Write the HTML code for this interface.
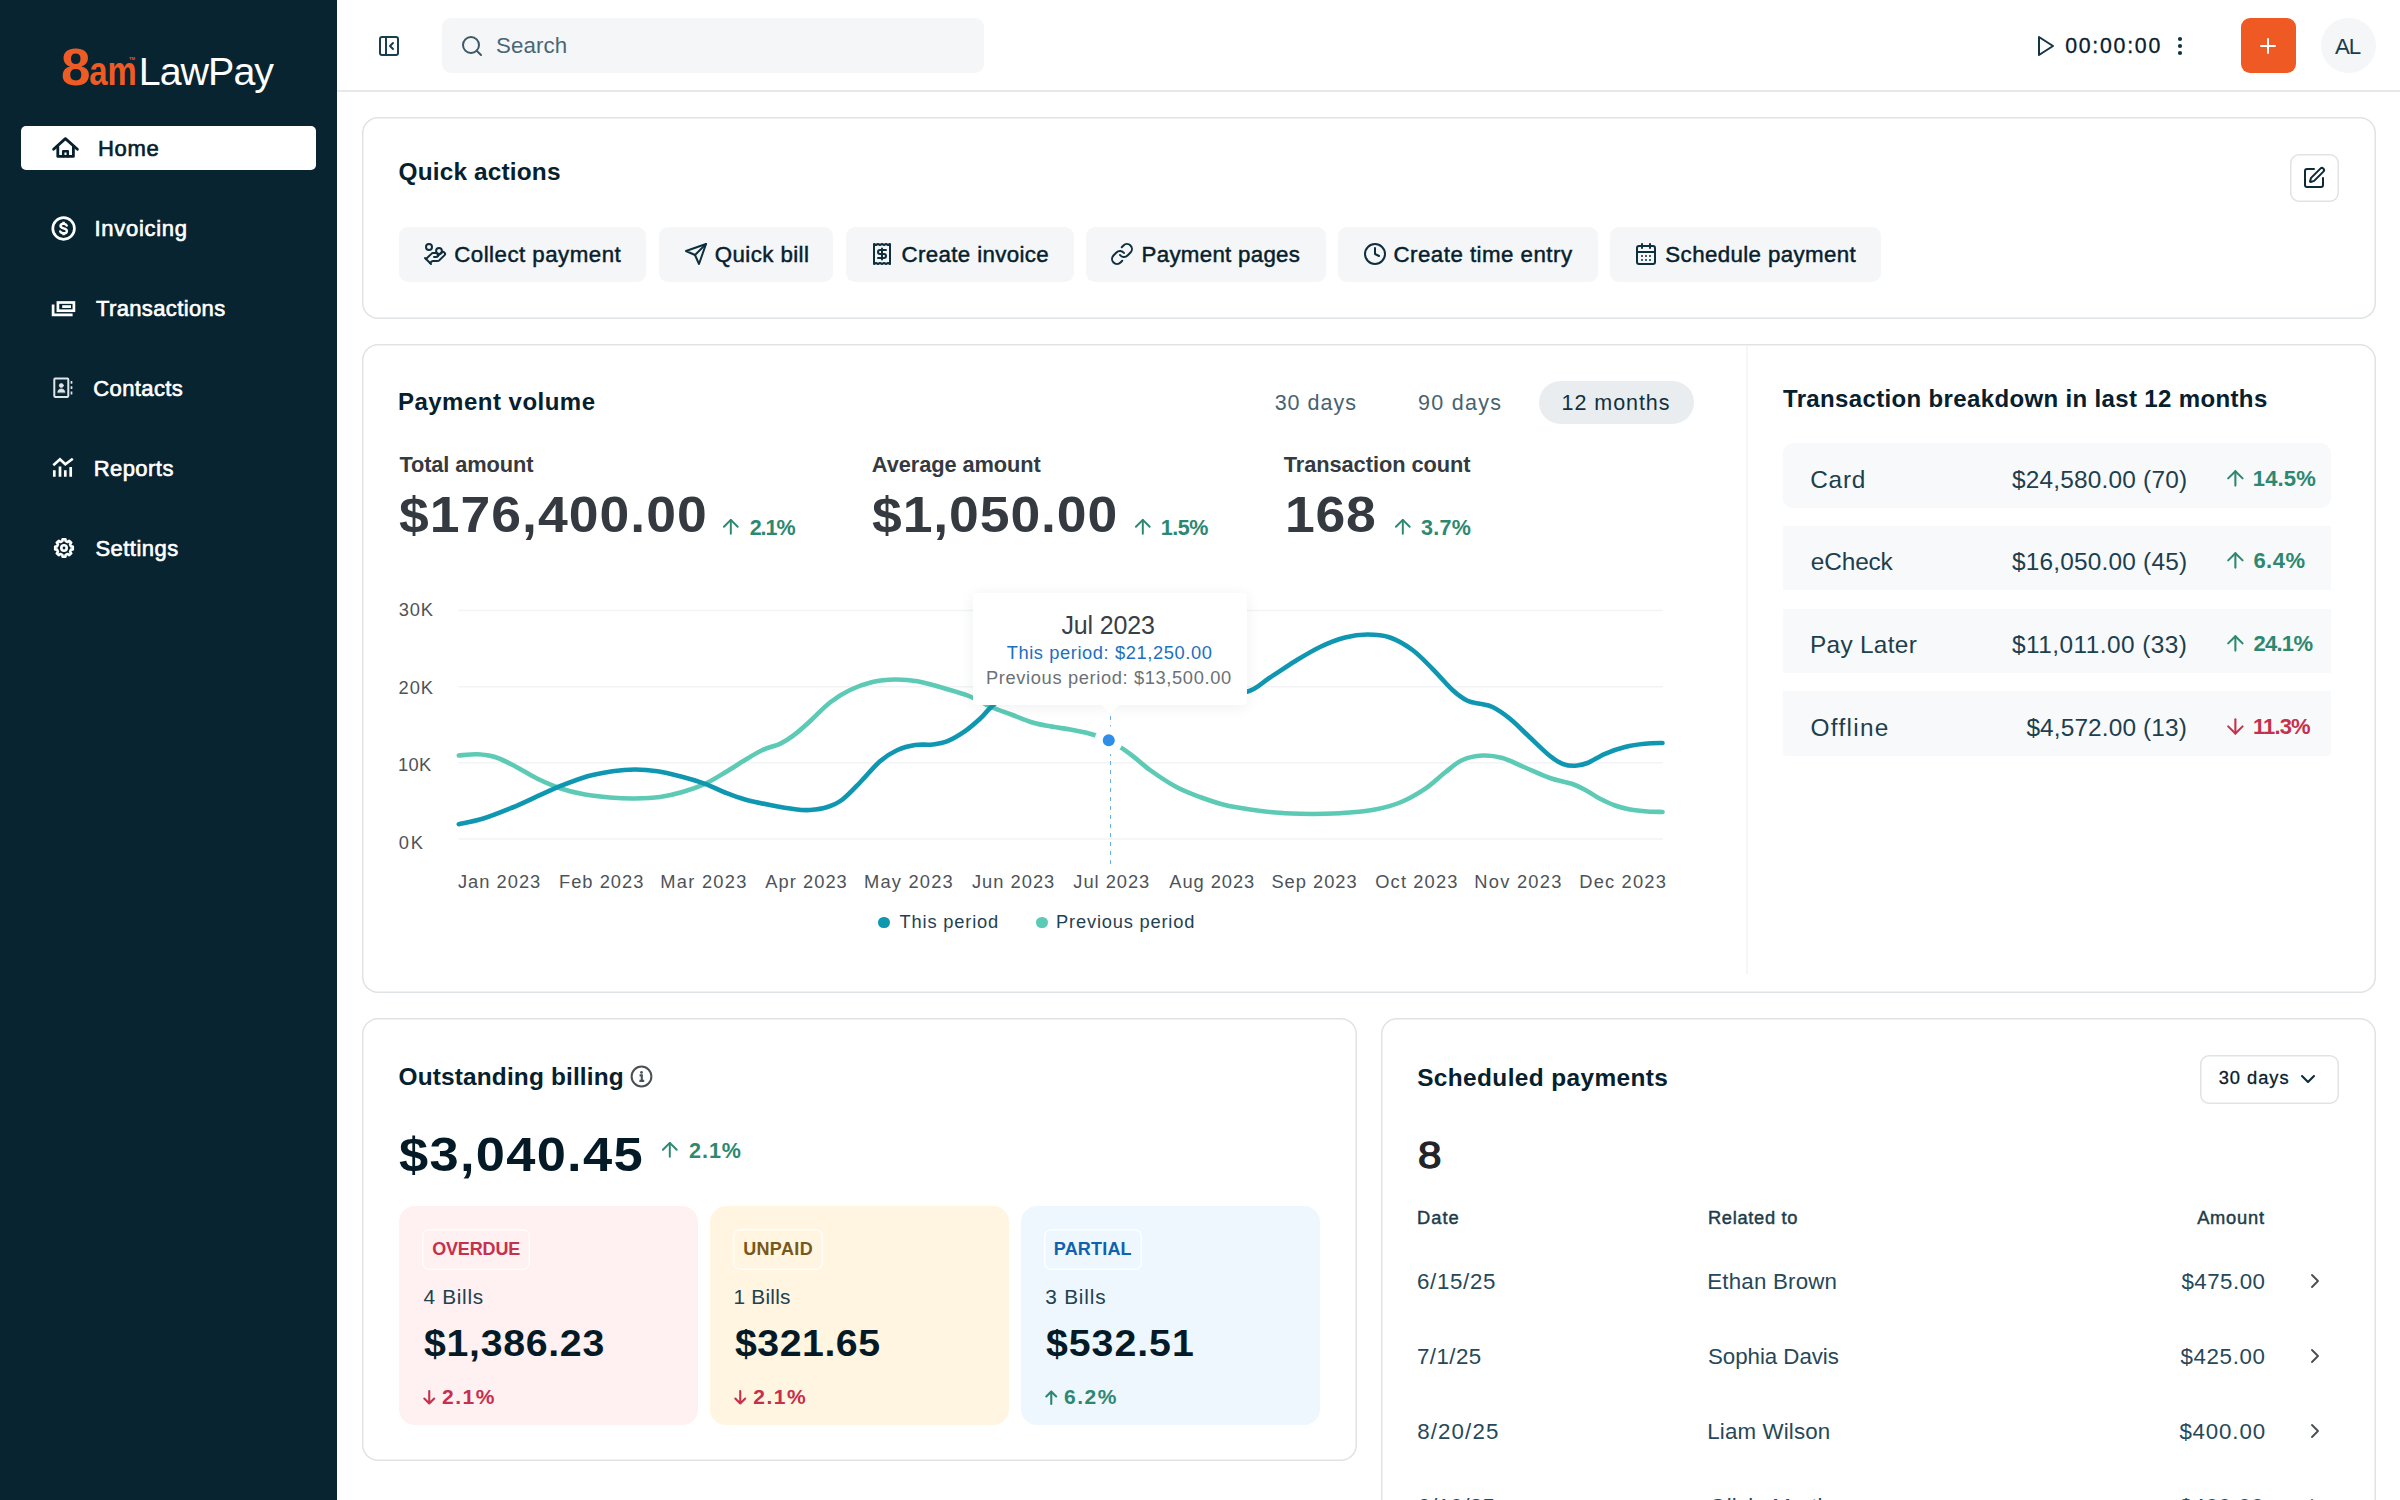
<!DOCTYPE html>
<html lang="en">
<head>
<meta charset="utf-8">
<title>LawPay - Home</title>
<style>
*{box-sizing:border-box;margin:0;padding:0}
html,body{width:2400px;height:1500px;overflow:hidden;background:#fff}
body{position:relative;font-family:"Liberation Sans",sans-serif;color:#06202d;-webkit-font-smoothing:antialiased}
.t{position:absolute;white-space:nowrap;line-height:1;display:block}
.b{position:absolute}
.i{position:absolute;overflow:visible;fill:none;stroke:currentColor;stroke-linecap:round;stroke-linejoin:round}
.card{box-shadow:inset 0 0 0 1.5px #dfe3e5;border-radius:16px;background:#fff}
.qa{background:#f4f6f8;border-radius:9px}
.bold{font-weight:700}
aside,header,main,section,nav{display:block}
</style>
</head>
<body>

<aside>
<div class="b" style="left:0px;top:0px;width:337px;height:1500px;background:#082430"></div>
<span class="t logo" style="left:61.30px;top:41px;font-size:52.4px;color:#ef5b25;font-weight:700;transform-origin:0 0;transform:scaleX(1.0123)">8<span style="display:inline-block;font-size:40.5px;line-height:1;margin-left:-1.250px;transform-origin:0 0;transform:scaleX(.8015)">am</span></span>
<span class="t" style="left:138.77px;top:52.00px;font-size:39.4px;color:#ffffff;letter-spacing:-0.981px">LawPay</span>
<span class="t" style="left:129.00px;top:57.00px;font-size:4.2px;color:#ef5b25;font-weight:700">TM</span>
<nav>
<div class="b" style="left:21px;top:126px;width:295px;height:43.5px;background:#fff;border-radius:5px"></div>
<svg class="i" style="left:52px;top:136px;color:#06202d;stroke-width:2.8" width="27" height="23" viewBox="0 0 27 23"><path d="M1.600 13.300L13.400 2.600L25.400 13.300"/><path d="M5.800 10.800V20.400H21.400V10.800"/><path d="M11.200 20.200V15.300H15.800V20.200" style="stroke-width:2.500"/></svg>
<span class="t" style="left:98.09px;top:138.00px;font-size:22px;color:#06202d;-webkit-text-stroke:0.65px currentColor;letter-spacing:0.628px">Home</span>
<svg class="i" style="left:51px;top:215.8px;color:#fff;stroke-width:2.7" width="25" height="25" viewBox="0 0 25 25"><circle cx="12.600" cy="12.500" r="10.800"/><path d="M15.700 9.600c-.5-1.100-1.600-1.800-3.100-1.800-1.800 0-3.100.9-3.100 2.300 0 3.100 6.400 1.500 6.400 4.800 0 1.500-1.400 2.400-3.300 2.400-1.600 0-2.900-.7-3.400-1.900" style="stroke-width:2.400"/><path d="M12.600 5.800V7.800M12.600 17.300V19.300" style="stroke-width:2.400;stroke-linecap:butt"/></svg>
<span class="t" style="left:94.49px;top:218.00px;font-size:22px;color:#fff;-webkit-text-stroke:0.65px currentColor;letter-spacing:0.716px">Invoicing</span>
<svg class="i" style="left:51px;top:299px;color:#fff;stroke-width:2.700;stroke-linecap:butt;stroke-linejoin:miter" width="26" height="19" viewBox="0 0 26 19"><rect x="6.900" y="3.500" width="16" height="8.200"/><rect x="11.200" y="6.200" width="8.800" height="2.800" style="fill:currentColor;stroke:none"/><path d="M2.100 5.400V15.900H21.600"/></svg>
<span class="t" style="left:95.94px;top:298.00px;font-size:22px;color:#fff;-webkit-text-stroke:0.65px currentColor;letter-spacing:0.378px">Transactions</span>
<svg class="i" style="left:52px;top:376px;color:#dfe6ea;stroke-width:2" width="23" height="23" viewBox="0 0 23 23"><rect x="2.300" y="2.600" width="14" height="18.300" rx="0.800"/><circle cx="9.300" cy="9.500" r="2.100" style="fill:currentColor;stroke-width:0.600"/><path d="M5.700 16.300c0-2.200 1.600-3.400 3.600-3.400s3.600 1.200 3.600 3.400z" style="fill:currentColor;stroke-width:0.600"/><path d="M19.500 5V7.800M19.500 10.300V13.100M19.500 15.600V18.400" style="stroke-width:1.700;stroke-linecap:butt"/></svg>
<span class="t" style="left:93.27px;top:378.00px;font-size:22px;color:#fff;-webkit-text-stroke:0.65px currentColor;letter-spacing:0.381px">Contacts</span>
<svg class="i" style="left:51px;top:456px;color:#fff" width="25" height="23" viewBox="0 0 25 23"><path d="M3.300 14.300V20.800M9 10.600V20.800M14.300 14.300V20.800M19.700 11V20.800" style="stroke-width:2.700;stroke-linecap:butt"/><path d="M2.300 9.300L9 3.200L14.300 8.300L21.800 2.800" style="stroke-width:2.600;stroke-linecap:butt;stroke-linejoin:miter"/></svg>
<span class="t" style="left:93.63px;top:458.00px;font-size:22px;color:#fff;-webkit-text-stroke:0.65px currentColor;letter-spacing:0.457px">Reports</span>
<svg class="i" style="left:52.8px;top:536.7px;color:#fff;stroke-width:2.600" width="22" height="22" viewBox="0 0 22 22"><path d="M9.61 2.21L12.39 2.21L12.66 4.10L14.71 4.95L16.23 3.80L18.20 5.77L17.05 7.29L17.90 9.34L19.79 9.61L19.79 12.39L17.90 12.66L17.05 14.71L18.20 16.23L16.23 18.20L14.71 17.05L12.66 17.90L12.39 19.79L9.61 19.79L9.34 17.90L7.29 17.05L5.77 18.20L3.80 16.23L4.95 14.71L4.10 12.66L2.21 12.39L2.21 9.61L4.10 9.34L4.95 7.29L3.80 5.77L5.77 3.80L7.29 4.95L9.34 4.10Z" style="stroke-linejoin:round"/><circle cx="11" cy="11" r="2.700"/></svg>
<span class="t" style="left:95.39px;top:538.00px;font-size:22px;color:#fff;-webkit-text-stroke:0.65px currentColor;letter-spacing:0.479px">Settings</span>
</nav>
</aside>
<header>
<div class="b" style="left:337px;top:90px;width:2063px;height:2px;background:#e5e9eb"></div>
<svg class="i" style="left:377px;top:34px;color:#173f50;stroke-width:2" width="24" height="24" viewBox="0 0 24 24"><rect width="18" height="18" x="3" y="3" rx="2"/><path d="M9 3v18"/><path d="m16 15-3-3 3-3"/></svg>
<div class="b" style="left:441.5px;top:18.3px;width:542px;height:55px;background:#f4f6f8;border-radius:9px"></div>
<svg class="i" style="left:459.7px;top:34px;color:#3c5966;stroke-width:2" width="24" height="24" viewBox="0 0 24 24"><circle cx="11" cy="11" r="8"/><path d="m21 21-4.300-4.300"/></svg>
<span class="t" style="left:496.05px;top:35.00px;font-size:22.3px;color:#4a6674;letter-spacing:0.104px">Search</span>
<svg class="i" style="left:2032.5px;top:33.8px;color:#123544;stroke-width:2" width="24" height="24" viewBox="0 0 24 24"><path d="M6 3 20 12 6 21Z"/></svg>
<span class="t" style="left:2065.16px;top:36.00px;font-size:21.3px;color:#06202d;-webkit-text-stroke:0.3px currentColor;letter-spacing:1.740px">00:00:00</span>
<svg class="i" style="left:2167.5px;top:34px;color:#123544;stroke-width:2.2" width="24" height="24" viewBox="0 0 24 24"><circle cx="12" cy="5" r="1"/><circle cx="12" cy="12" r="1"/><circle cx="12" cy="19" r="1"/></svg>
<div class="b" style="left:2240.5px;top:18.3px;width:55.3px;height:55px;background:#ef5a24;border-radius:9px"></div>
<svg class="i" style="left:2256.2px;top:34px;color:#fff;stroke-width:2" width="24" height="24" viewBox="0 0 24 24"><path d="M5 12h14"/><path d="M12 5v14"/></svg>
<div class="b" style="left:2320.5px;top:18.3px;width:55px;height:55px;background:#f4f6f8;border-radius:50%"></div>
<span class="t" style="left:2334.88px;top:36.00px;font-size:22.3px;color:#1a3d4d;letter-spacing:-0.896px">AL</span>
</header>
<main>
<section>
<div class="b card" style="left:362px;top:117px;width:2013.5px;height:201.5px;"></div>
<span class="t" style="left:398.51px;top:160.00px;font-size:24.4px;color:#06202d;font-weight:700;letter-spacing:0.169px">Quick actions</span>
<div class="b" style="left:2290px;top:153.5px;width:48.5px;height:48.5px;box-shadow:inset 0 0 0 1.5px #dfe3e5;border-radius:9px;background:#fff"></div>
<svg class="i" style="left:2302px;top:165.6px;color:#0d2a38;stroke-width:2" width="24" height="24" viewBox="0 0 24 24"><path d="M12 3H5a2 2 0 0 0-2 2v14a2 2 0 0 0 2 2h14a2 2 0 0 0 2-2v-7"/><path d="M18.375 2.625a1 1 0 0 1 3 3l-9.013 9.014a2 2 0 0 1-.853.505l-2.873.84a.5.5 0 0 1-.62-.62l.84-2.873a2 2 0 0 1 .506-.852z"/></svg>
<div class="b qa" style="left:398.75px;top:227px;width:247.5px;height:55px;"></div>
<svg class="i" style="left:423.0px;top:242.4px;color:#0d2f3e;stroke-width:2" width="24" height="24" viewBox="0 0 24 24"><path d="M11 15h2a2 2 0 1 0 0-4h-3c-.6 0-1.1.2-1.4.6L3 17"/><path d="m7 21 1.600-1.400c.3-.4.8-.6 1.400-.6h4c1.100 0 2.100-.4 2.800-1.200l4.600-4.400a2 2 0 0 0-2.750-2.910l-4.200 3.900"/><path d="m2 16 6 6"/><circle cx="16" cy="9" r="2.900"/><circle cx="6" cy="5" r="3"/></svg>
<span class="t" style="left:454.22px;top:244.00px;font-size:22.3px;color:#06202d;-webkit-text-stroke:0.45px currentColor;letter-spacing:0.474px">Collect payment</span>
<div class="b qa" style="left:659.25px;top:227px;width:174.0px;height:55px;"></div>
<svg class="i" style="left:683.5px;top:242.4px;color:#0d2f3e;stroke-width:2" width="24" height="24" viewBox="0 0 24 24"><path d="m22 2-7 20-4-9-9-4Z"/><path d="M22 2 11 13"/></svg>
<span class="t" style="left:714.69px;top:244.00px;font-size:22.3px;color:#06202d;-webkit-text-stroke:0.45px currentColor;letter-spacing:0.421px">Quick bill</span>
<div class="b qa" style="left:845.75px;top:227px;width:228.0px;height:55px;"></div>
<svg class="i" style="left:870.0px;top:242.4px;color:#0d2f3e;stroke-width:2" width="24" height="24" viewBox="0 0 24 24"><path d="M4 2v20l2-1 2 1 2-1 2 1 2-1 2 1 2-1 2 1V2l-2 1-2-1-2 1-2-1-2 1-2-1-2 1Z"/><path d="M16 8h-6a2 2 0 1 0 0 4h4a2 2 0 1 1 0 4H8"/><path d="M12 17.500v-11"/></svg>
<span class="t" style="left:901.54px;top:244.00px;font-size:22.3px;color:#06202d;-webkit-text-stroke:0.45px currentColor;letter-spacing:0.354px">Create invoice</span>
<div class="b qa" style="left:1085.75px;top:227px;width:240.0px;height:55px;"></div>
<svg class="i" style="left:1110.0px;top:242.4px;color:#0d2f3e;stroke-width:2" width="24" height="24" viewBox="0 0 24 24"><path d="M10 13a5 5 0 0 0 7.540.540l3-3a5 5 0 0 0-7.070-7.070l-1.720 1.710"/><path d="M14 11a5 5 0 0 0-7.540-.540l-3 3a5 5 0 0 0 7.070 7.070l1.710-1.710"/></svg>
<span class="t" style="left:1141.56px;top:244.00px;font-size:22.3px;color:#06202d;-webkit-text-stroke:0.45px currentColor;letter-spacing:0.289px">Payment pages</span>
<div class="b qa" style="left:1338.25px;top:227px;width:259.25px;height:55px;"></div>
<svg class="i" style="left:1362.5px;top:242.4px;color:#0d2f3e;stroke-width:2" width="24" height="24" viewBox="0 0 24 24"><circle cx="12" cy="12" r="10"/><path d="M12 6v6l4 2"/></svg>
<span class="t" style="left:1393.54px;top:244.00px;font-size:22.3px;color:#06202d;-webkit-text-stroke:0.45px currentColor;letter-spacing:0.469px">Create time entry</span>
<div class="b qa" style="left:1610px;top:227px;width:270.5px;height:55px;"></div>
<svg class="i" style="left:1634.25px;top:242.4px;color:#0d2f3e;stroke-width:2" width="24" height="24" viewBox="0 0 24 24"><path d="M8 2v4"/><path d="M16 2v4"/><rect width="18" height="18" x="3" y="4" rx="2"/><path d="M3 10h18"/><path d="M8 14h.01"/><path d="M12 14h.01"/><path d="M16 14h.01"/><path d="M8 18h.01"/><path d="M12 18h.01"/><path d="M16 18h.01"/></svg>
<span class="t" style="left:1665.36px;top:244.00px;font-size:22.3px;color:#06202d;-webkit-text-stroke:0.45px currentColor;letter-spacing:0.373px">Schedule payment</span>
</section>
<section>
<div class="b card" style="left:362px;top:344px;width:2013.5px;height:649px;"></div>
<div class="b" style="left:1746px;top:345.5px;width:2px;height:628px;background:#f5f6f8"></div>
<span class="t" style="left:397.88px;top:390.00px;font-size:24px;color:#06202d;font-weight:700;letter-spacing:0.494px">Payment volume</span>
<span class="t" style="left:1274.65px;top:393.00px;font-size:21.5px;color:#48626f;letter-spacing:0.995px">30 days</span>
<span class="t" style="left:1418.06px;top:393.00px;font-size:21.5px;color:#48626f;letter-spacing:1.265px">90 days</span>
<div class="b" style="left:1538.75px;top:380.5px;width:155px;height:43.5px;background:#e9edef;border-radius:22px"></div>
<span class="t" style="left:1561.61px;top:393.00px;font-size:21.5px;color:#12303f;letter-spacing:0.940px">12 months</span>
<span class="t" style="left:399.40px;top:454.00px;font-size:21.8px;color:#343a40;font-weight:700;letter-spacing:-0.104px">Total amount</span>
<span class="t" style="left:398.91px;top:490.00px;font-size:50px;color:#343a40;font-weight:700;transform-origin:0 0;transform:scaleX(1.07);letter-spacing:0.959px">$176,400.00</span>
<svg class="i" style="left:719.06px;top:515.06px;color:#2c8870;stroke-width:2" width="23.62" height="23.62" viewBox="0 0 24 24"><path d="m5 12 7-7 7 7"/><path d="M12 19V5"/></svg>
<span class="t" style="left:749.72px;top:518.00px;font-size:21.5px;color:#2c8870;font-weight:700;letter-spacing:-1.076px">2.1%</span>
<span class="t" style="left:871.83px;top:454.00px;font-size:21.8px;color:#343a40;font-weight:700;letter-spacing:-0.085px">Average amount</span>
<span class="t" style="left:871.91px;top:490.00px;font-size:50px;color:#343a40;font-weight:700;transform-origin:0 0;transform:scaleX(1.07);letter-spacing:0.849px">$1,050.00</span>
<svg class="i" style="left:1131.06px;top:515.06px;color:#2c8870;stroke-width:2" width="23.62" height="23.62" viewBox="0 0 24 24"><path d="m5 12 7-7 7 7"/><path d="M12 19V5"/></svg>
<span class="t" style="left:1160.64px;top:518.00px;font-size:21.5px;color:#2c8870;font-weight:700;letter-spacing:-0.436px">1.5%</span>
<span class="t" style="left:1283.63px;top:454.00px;font-size:21.8px;color:#343a40;font-weight:700;letter-spacing:-0.046px">Transaction count</span>
<span class="t" style="left:1284.90px;top:490.00px;font-size:50px;color:#343a40;font-weight:700;transform-origin:0 0;transform:scaleX(1.07);letter-spacing:0.714px">168</span>
<svg class="i" style="left:1390.56px;top:515.06px;color:#2c8870;stroke-width:2" width="23.62" height="23.62" viewBox="0 0 24 24"><path d="m5 12 7-7 7 7"/><path d="M12 19V5"/></svg>
<span class="t" style="left:1421.11px;top:518.00px;font-size:21.5px;color:#2c8870;font-weight:700;letter-spacing:0.258px">3.7%</span>
<span class="t" style="left:398.68px;top:601.00px;font-size:18.3px;color:#4d5358;letter-spacing:0.925px">30K</span>
<span class="t" style="left:398.61px;top:679.00px;font-size:18.3px;color:#4d5358;letter-spacing:0.959px">20K</span>
<span class="t" style="left:398.08px;top:756.00px;font-size:18.3px;color:#4d5358;letter-spacing:0.239px">10K</span>
<span class="t" style="left:398.87px;top:834.00px;font-size:18.3px;color:#4d5358;letter-spacing:1.835px">0K</span>
<svg class="i" style="left:0;top:0" width="2400" height="1000" viewBox="0 0 2400 1000"><path d="M458.500 610.6H1663" style="stroke:#f1f3f5;stroke-width:1.500;stroke-linecap:butt"/><path d="M458.500 686.7H1663" style="stroke:#f1f3f5;stroke-width:1.500;stroke-linecap:butt"/><path d="M458.500 762.8H1663" style="stroke:#f1f3f5;stroke-width:1.500;stroke-linecap:butt"/><path d="M458.500 838.9H1663" style="stroke:#f1f3f5;stroke-width:1.500;stroke-linecap:butt"/><path d="M458.8 755.5C461.9 755.3 471.5 754.0 477.5 754.2C483.5 754.5 488.8 755.0 495.0 757.0C501.2 759.0 507.9 762.6 515.0 766.2C522.1 769.9 530.0 775.1 537.5 778.8C545.0 782.4 552.1 785.6 560.0 788.2C567.9 790.9 576.7 793.0 585.0 794.5C593.3 796.0 601.7 796.8 610.0 797.5C618.3 798.2 626.7 798.6 635.0 798.5C643.3 798.4 652.1 798.1 660.0 797.0C667.9 795.9 675.0 794.2 682.5 792.0C690.0 789.8 697.9 787.0 705.0 783.8C712.1 780.5 718.3 776.5 725.0 772.5C731.7 768.5 738.8 763.8 745.0 760.0C751.2 756.2 756.7 752.7 762.5 750.0C768.3 747.3 775.0 746.0 780.0 743.8C785.0 741.5 787.5 740.0 792.5 736.2C797.5 732.5 803.8 726.9 810.0 721.2C816.2 715.6 823.3 707.7 830.0 702.5C836.7 697.3 842.9 693.4 850.0 690.0C857.1 686.6 865.0 683.8 872.5 682.0C880.0 680.2 887.5 679.6 895.0 679.5C902.5 679.4 910.0 680.0 917.5 681.2C925.0 682.5 932.9 685.0 940.0 687.0C947.1 689.0 954.8 691.3 960.0 693.0C965.2 694.7 966.0 694.7 971.2 697.0C976.5 699.3 984.4 704.0 991.2 707.0C998.1 710.0 1005.6 712.4 1012.5 715.0C1019.4 717.6 1026.2 720.6 1032.5 722.5C1038.8 724.4 1043.8 725.1 1050.0 726.2C1056.2 727.4 1063.8 728.4 1070.0 729.5C1076.2 730.6 1081.0 731.2 1087.5 733.0C1094.0 734.8 1101.7 736.8 1108.8 740.2C1115.8 743.7 1123.1 748.8 1130.0 753.8C1136.9 758.7 1142.5 764.6 1150.0 770.0C1157.5 775.4 1166.7 781.8 1175.0 786.2C1183.3 790.8 1191.7 793.9 1200.0 797.0C1208.3 800.1 1216.7 802.9 1225.0 805.0C1233.3 807.1 1241.7 808.2 1250.0 809.5C1258.3 810.8 1266.7 811.8 1275.0 812.5C1283.3 813.2 1291.7 813.5 1300.0 813.8C1308.3 814.0 1316.7 814.0 1325.0 813.8C1333.3 813.5 1341.7 813.2 1350.0 812.5C1358.3 811.8 1366.7 811.2 1375.0 809.5C1383.3 807.8 1391.7 806.0 1400.0 802.5C1408.3 799.0 1417.5 793.8 1425.0 788.8C1432.5 783.8 1438.8 777.3 1445.0 772.5C1451.2 767.7 1456.2 762.8 1462.5 760.0C1468.8 757.2 1475.8 755.8 1482.5 755.5C1489.2 755.2 1495.4 756.0 1502.5 758.0C1509.6 760.0 1517.1 764.2 1525.0 767.5C1532.9 770.8 1542.1 775.2 1550.0 778.0C1557.9 780.8 1566.2 781.8 1572.5 784.0C1578.8 786.2 1582.9 788.8 1587.5 791.2C1592.1 793.7 1595.4 796.4 1600.0 798.8C1604.6 801.1 1610.0 803.7 1615.0 805.5C1620.0 807.3 1624.6 808.5 1630.0 809.5C1635.4 810.5 1642.1 811.1 1647.5 811.5C1652.9 811.9 1660.0 811.9 1662.5 812.0" style="stroke:#5ccab4;stroke-width:4.600"/><path d="M458.8 824.2C462.7 823.3 473.5 821.5 482.5 818.8C491.5 816.0 503.3 811.2 512.5 807.5C521.7 803.8 529.6 799.8 537.5 796.2C545.4 792.7 551.7 789.6 560.0 786.2C568.3 782.9 578.8 778.8 587.5 776.2C596.2 773.8 604.6 772.4 612.5 771.2C620.4 770.1 627.5 769.5 635.0 769.5C642.5 769.5 650.0 770.1 657.5 771.2C665.0 772.4 672.1 774.2 680.0 776.2C687.9 778.3 697.5 781.0 705.0 783.8C712.5 786.5 718.3 789.9 725.0 792.5C731.7 795.1 737.5 797.4 745.0 799.5C752.5 801.6 761.7 803.4 770.0 805.0C778.3 806.6 788.3 808.4 795.0 809.2C801.7 810.1 804.6 810.4 810.0 810.0C815.4 809.6 822.1 808.8 827.5 807.0C832.9 805.2 837.1 803.6 842.5 799.5C847.9 795.4 853.8 788.9 860.0 782.5C866.2 776.1 873.8 766.7 880.0 761.2C886.2 755.8 891.7 752.7 897.5 750.0C903.3 747.3 909.2 745.9 915.0 745.0C920.8 744.1 927.1 745.1 932.5 744.5C937.9 743.9 942.1 743.5 947.5 741.2C952.9 739.0 959.6 735.0 965.0 731.2C970.4 727.5 975.6 722.8 980.0 718.8C984.4 714.7 986.2 711.5 991.2 707.0C996.2 702.5 1001.9 696.5 1010.0 692.0C1018.1 687.5 1028.3 682.7 1040.0 680.0C1051.7 677.3 1067.5 676.5 1080.0 676.0C1092.5 675.5 1101.7 675.7 1115.0 677.0C1128.3 678.3 1145.0 681.5 1160.0 684.0C1175.0 686.5 1190.6 690.7 1205.0 692.0C1219.4 693.3 1235.4 694.4 1246.2 692.0C1257.1 689.6 1261.9 682.6 1270.0 677.5C1278.1 672.4 1286.7 666.3 1295.0 661.2C1303.3 656.2 1311.7 651.0 1320.0 647.0C1328.3 643.0 1337.1 639.6 1345.0 637.5C1352.9 635.4 1360.0 634.5 1367.5 634.5C1375.0 634.5 1382.5 634.9 1390.0 637.5C1397.5 640.1 1405.4 644.8 1412.5 650.0C1419.6 655.2 1425.8 662.1 1432.5 668.8C1439.2 675.4 1446.7 684.7 1452.5 690.0C1458.3 695.3 1462.9 698.5 1467.5 700.8C1472.1 703.0 1475.8 702.7 1480.0 703.8C1484.2 704.8 1487.5 704.5 1492.5 707.0C1497.5 709.5 1503.8 713.7 1510.0 718.8C1516.2 723.8 1523.3 731.3 1530.0 737.5C1536.7 743.7 1544.6 751.6 1550.0 756.0C1555.4 760.4 1558.3 762.1 1562.5 763.8C1566.7 765.4 1570.8 765.9 1575.0 765.8C1579.2 765.6 1582.5 765.0 1587.5 763.0C1592.5 761.0 1598.8 756.4 1605.0 753.8C1611.2 751.1 1618.3 748.7 1625.0 747.0C1631.7 745.3 1638.8 744.4 1645.0 743.8C1651.2 743.1 1659.6 743.1 1662.5 743.0" style="stroke:#0f97b2;stroke-width:4.600"/><path d="M1110.500 716V866" style="stroke:#6aaee8;stroke-width:1;stroke-dasharray:4 5;stroke-linecap:butt"/><circle cx="1108.750" cy="740.250" r="14" style="fill:#fff;stroke:none"/><circle cx="1108.750" cy="740.250" r="6" style="fill:#2f8fe8;stroke:none"/></svg>
<div class="b" style="left:972.5px;top:593px;width:274px;height:112px;background:#fff;border-radius:4px;box-shadow:0 2px 14px rgba(20,40,60,.07)"></div>
<div class="b" style="left:1103.500px;top:697.500px;width:13px;height:13px;background:#fff;transform:rotate(45deg)"></div>
<span class="t" style="left:1061.47px;top:613.00px;font-size:25px;color:#3a3f44;letter-spacing:-0.139px">Jul 2023</span>
<span class="t" style="left:1006.67px;top:644.00px;font-size:18.3px;color:#1d6fc0;letter-spacing:0.594px">This period: $21,250.00</span>
<span class="t" style="left:985.98px;top:669.00px;font-size:18.3px;color:#6b7177;letter-spacing:0.634px">Previous period: $13,500.00</span>
<span class="t" style="left:457.94px;top:873.00px;font-size:18.3px;color:#4d5358;letter-spacing:1.011px">Jan 2023</span>
<span class="t" style="left:558.97px;top:873.00px;font-size:18.3px;color:#4d5358;letter-spacing:1.021px">Feb 2023</span>
<span class="t" style="left:660.32px;top:873.00px;font-size:18.3px;color:#4d5358;letter-spacing:1.261px">Mar 2023</span>
<span class="t" style="left:765.25px;top:873.00px;font-size:18.3px;color:#4d5358;letter-spacing:1.046px">Apr 2023</span>
<span class="t" style="left:863.97px;top:873.00px;font-size:18.3px;color:#4d5358;letter-spacing:1.218px">May 2023</span>
<span class="t" style="left:971.94px;top:873.00px;font-size:18.3px;color:#4d5358;letter-spacing:1.011px">Jun 2023</span>
<span class="t" style="left:1073.29px;top:873.00px;font-size:18.3px;color:#4d5358;letter-spacing:0.981px">Jul 2023</span>
<span class="t" style="left:1169.25px;top:873.00px;font-size:18.3px;color:#4d5358;letter-spacing:0.960px">Aug 2023</span>
<span class="t" style="left:1271.40px;top:873.00px;font-size:18.3px;color:#4d5358;letter-spacing:1.005px">Sep 2023</span>
<span class="t" style="left:1375.28px;top:873.00px;font-size:18.3px;color:#4d5358;letter-spacing:1.130px">Oct 2023</span>
<span class="t" style="left:1474.32px;top:873.00px;font-size:18.3px;color:#4d5358;letter-spacing:1.257px">Nov 2023</span>
<span class="t" style="left:1579.32px;top:873.00px;font-size:18.3px;color:#4d5358;letter-spacing:1.180px">Dec 2023</span>
<div class="b" style="left:878px;top:916.5px;width:11.5px;height:11.5px;background:#0f97b2;border-radius:50%"></div>
<span class="t" style="left:899.56px;top:913.00px;font-size:18.3px;color:#1f4252;letter-spacing:0.831px">This period</span>
<div class="b" style="left:1036px;top:916.5px;width:11.5px;height:11.5px;background:#5ccab4;border-radius:50%"></div>
<span class="t" style="left:1056.10px;top:913.00px;font-size:18.3px;color:#1f4252;letter-spacing:0.801px">Previous period</span>
<span class="t" style="left:1782.98px;top:387.00px;font-size:24px;color:#06202d;font-weight:700;letter-spacing:0.355px">Transaction breakdown in last 12 months</span>
<div class="b" style="left:1782.5px;top:443px;width:548.75px;height:64.5px;background:#f8f9fa;border-radius:10px"></div>
<span class="t" style="left:1810.24px;top:468.00px;font-size:24.4px;color:#1d3f4e;letter-spacing:0.764px">Card</span>
<span class="t" style="left:2012.04px;top:468.00px;font-size:24.4px;color:#1d3f4e;letter-spacing:0.200px">$24,580.00 (70)</span>
<svg class="i" style="left:2222.62px;top:465.57px;color:#2c8870;stroke-width:2" width="24.75" height="24.75" viewBox="0 0 24 24"><path d="m5 12 7-7 7 7"/><path d="M12 19V5"/></svg>
<span class="t" style="left:2252.75px;top:468.00px;font-size:22px;color:#2c8870;font-weight:700;letter-spacing:0.163px">14.5%</span>
<div class="b" style="left:1782.5px;top:525.75px;width:548.75px;height:64.5px;background:#f8f9fa;"></div>
<span class="t" style="left:1810.85px;top:550.00px;font-size:24.4px;color:#1d3f4e;letter-spacing:-0.152px">eCheck</span>
<span class="t" style="left:2012.04px;top:550.00px;font-size:24.4px;color:#1d3f4e;letter-spacing:0.200px">$16,050.00 (45)</span>
<svg class="i" style="left:2222.62px;top:548.33px;color:#2c8870;stroke-width:2" width="24.75" height="24.75" viewBox="0 0 24 24"><path d="m5 12 7-7 7 7"/><path d="M12 19V5"/></svg>
<span class="t" style="left:2253.43px;top:550.00px;font-size:22px;color:#2c8870;font-weight:700;letter-spacing:0.462px">6.4%</span>
<div class="b" style="left:1782.5px;top:608.5px;width:548.75px;height:64.5px;background:#f8f9fa;"></div>
<span class="t" style="left:1809.91px;top:633.00px;font-size:24.4px;color:#1d3f4e;letter-spacing:0.318px">Pay Later</span>
<span class="t" style="left:2012.04px;top:633.00px;font-size:24.4px;color:#1d3f4e;letter-spacing:0.454px">$11,011.00 (33)</span>
<svg class="i" style="left:2222.62px;top:631.08px;color:#2c8870;stroke-width:2" width="24.75" height="24.75" viewBox="0 0 24 24"><path d="m5 12 7-7 7 7"/><path d="M12 19V5"/></svg>
<span class="t" style="left:2253.38px;top:633.00px;font-size:22px;color:#2c8870;font-weight:700;letter-spacing:-0.703px">24.1%</span>
<div class="b" style="left:1782.5px;top:691.25px;width:548.75px;height:64.5px;background:#f8f9fa;border-radius:0 0 4px 4px"></div>
<span class="t" style="left:1810.59px;top:716.00px;font-size:24.4px;color:#1d3f4e;letter-spacing:1.277px">Offline</span>
<span class="t" style="left:2026.39px;top:716.00px;font-size:24.4px;color:#1d3f4e;letter-spacing:0.141px">$4,572.00 (13)</span>
<svg class="i" style="left:2222.62px;top:713.83px;color:#c5304c;stroke-width:2" width="24.75" height="24.75" viewBox="0 0 24 24"><path d="M12 5v14"/><path d="m19 12-7 7-7-7"/></svg>
<span class="t" style="left:2252.95px;top:716.00px;font-size:22px;color:#c5304c;font-weight:700;letter-spacing:-0.884px">11.3%</span>
</section>
<section>
<div class="b card" style="left:362px;top:1018px;width:994.5px;height:443.25px;"></div>
<span class="t" style="left:398.51px;top:1065.00px;font-size:24.4px;color:#06202d;font-weight:700;letter-spacing:0.167px">Outstanding billing</span>
<svg class="i" style="left:629.9px;top:1064.6px;color:#4b5055" width="23" height="23" viewBox="0 0 23 23"><circle cx="11.500" cy="11.500" r="9.900" style="stroke-width:2"/><path d="M9.600 10.400H11.800V15.800M9.400 15.900H14.200" style="stroke-width:2.100;stroke-linecap:butt;stroke-linejoin:miter"/><circle cx="11.500" cy="7.400" r="1.350" style="fill:currentColor;stroke:none"/></svg>
<span class="t" style="left:399.39px;top:1130.00px;font-size:49px;color:#041b27;font-weight:700;transform-origin:0 0;transform:scaleX(1.07);letter-spacing:1.209px">$3,040.45</span>
<svg class="i" style="left:658.06px;top:1138.26px;color:#2c8870;stroke-width:2" width="23.62" height="23.62" viewBox="0 0 24 24"><path d="m5 12 7-7 7 7"/><path d="M12 19V5"/></svg>
<span class="t" style="left:689.04px;top:1141.00px;font-size:21.5px;color:#2c8870;font-weight:700;letter-spacing:0.979px">2.1%</span>
<div class="b" style="left:398.75px;top:1205.75px;width:298.75px;height:218.75px;background:#fff0f1;border-radius:16px"></div>
<div class="b" style="left:422.0px;top:1229.25px;width:108.25px;height:40.25px;box-shadow:inset 0 0 0 1.5px rgba(255,255,255,.8);border-radius:7px"></div>
<span class="t" style="left:432.16px;top:1240.00px;font-size:18px;color:#c5304c;font-weight:700;letter-spacing:-0.155px">OVERDUE</span>
<span class="t" style="left:423.38px;top:1287.00px;font-size:20.8px;color:#21414f;letter-spacing:0.725px">4 Bills</span>
<span class="t" style="left:424.01px;top:1326.00px;font-size:36.7px;color:#041b27;font-weight:700;transform-origin:0 0;transform:scaleX(1.07);letter-spacing:0.651px">$1,386.23</span>
<svg class="i" style="left:422.5px;top:1389.5px;color:#c5304c;stroke-width:2.1" width="12.5" height="15" viewBox="0 0 12.5 15"><path d="M6.250 1V13.400M1.300 8.500L6.250 13.500L11.200 8.500"/></svg>
<span class="t" style="left:441.90px;top:1386.00px;font-size:21px;color:#c5304c;font-weight:700;letter-spacing:1.576px">2.1%</span>
<div class="b" style="left:710px;top:1205.75px;width:298.75px;height:218.75px;background:#fff5e1;border-radius:16px"></div>
<div class="b" style="left:733.25px;top:1229.25px;width:90px;height:40.25px;box-shadow:inset 0 0 0 1.5px rgba(255,255,255,.8);border-radius:7px"></div>
<span class="t" style="left:743.15px;top:1240.00px;font-size:18px;color:#76591a;font-weight:700;letter-spacing:0.368px">UNPAID</span>
<span class="t" style="left:733.49px;top:1287.00px;font-size:20.8px;color:#21414f;letter-spacing:0.260px">1 Bills</span>
<span class="t" style="left:734.99px;top:1326.00px;font-size:36.7px;color:#041b27;font-weight:700;transform-origin:0 0;transform:scaleX(1.07);letter-spacing:0.481px">$321.65</span>
<svg class="i" style="left:733.75px;top:1389.5px;color:#c5304c;stroke-width:2.1" width="12.5" height="15" viewBox="0 0 12.5 15"><path d="M6.250 1V13.400M1.300 8.500L6.250 13.500L11.200 8.500"/></svg>
<span class="t" style="left:753.22px;top:1386.00px;font-size:21px;color:#c5304c;font-weight:700;letter-spacing:1.541px">2.1%</span>
<div class="b" style="left:1021px;top:1205.75px;width:298.75px;height:218.75px;background:#eff7fe;border-radius:16px"></div>
<div class="b" style="left:1044.25px;top:1229.25px;width:98px;height:40.25px;box-shadow:inset 0 0 0 1.5px rgba(255,255,255,.8);border-radius:7px"></div>
<span class="t" style="left:1053.83px;top:1240.00px;font-size:18px;color:#0f62b0;font-weight:700;letter-spacing:0.177px">PARTIAL</span>
<span class="t" style="left:1045.18px;top:1287.00px;font-size:20.8px;color:#21414f;letter-spacing:0.823px">3 Bills</span>
<span class="t" style="left:1046.05px;top:1326.00px;font-size:36.7px;color:#041b27;font-weight:700;transform-origin:0 0;transform:scaleX(1.07);letter-spacing:0.912px">$532.51</span>
<svg class="i" style="left:1044.75px;top:1389.5px;color:#2c8870;stroke-width:2.1" width="12.5" height="15" viewBox="0 0 12.5 15"><path d="M6.250 14V1.600M1.300 6.500L6.250 1.500L11.200 6.500"/></svg>
<span class="t" style="left:1064.08px;top:1386.00px;font-size:21px;color:#2c8870;font-weight:700;letter-spacing:1.475px">6.2%</span>
</section>
<section>
<div class="b card" style="left:1381px;top:1018px;width:994.5px;height:520px;"></div>
<span class="t" style="left:1417.19px;top:1066.00px;font-size:24.4px;color:#06202d;font-weight:700;letter-spacing:0.392px">Scheduled payments</span>
<div class="b" style="left:2200px;top:1055px;width:138.5px;height:48.5px;box-shadow:inset 0 0 0 1.5px #dfe3e5;border-radius:9px;background:#fff"></div>
<span class="t" style="left:2218.74px;top:1069.00px;font-size:18.3px;color:#06202d;-webkit-text-stroke:0.3px currentColor;letter-spacing:0.960px">30 days</span>
<svg class="i" style="left:2296px;top:1067.2px;color:#0d2a38;stroke-width:2.1" width="24" height="24" viewBox="0 0 24 24"><path d="m6 9 6 6 6-6"/></svg>
<span class="t" style="left:1417.85px;top:1138.00px;font-size:36.7px;color:#212529;-webkit-text-stroke:1.3px currentColor;transform-origin:0 0;transform:scaleX(1.1479)">8</span>
<span class="t" style="left:1416.97px;top:1209.00px;font-size:18.3px;color:#1d3c4a;-webkit-text-stroke:0.45px currentColor;letter-spacing:1.066px">Date</span>
<span class="t" style="left:1707.97px;top:1209.00px;font-size:18.3px;color:#1d3c4a;-webkit-text-stroke:0.45px currentColor;letter-spacing:0.678px">Related to</span>
<span class="t" style="left:2197.14px;top:1209.00px;font-size:18.3px;color:#1d3c4a;-webkit-text-stroke:0.45px currentColor;letter-spacing:0.776px">Amount</span>
<span class="t" style="left:1417.00px;top:1271.00px;font-size:22.3px;color:#264858;letter-spacing:0.666px">6/15/25</span>
<span class="t" style="left:1707.31px;top:1271.00px;font-size:22.3px;color:#264858;letter-spacing:0.197px">Ethan Brown</span>
<span class="t" style="left:2181.39px;top:1271.00px;font-size:22.3px;color:#264858;letter-spacing:0.496px">$475.00</span>
<svg class="i" style="left:2302.9px;top:1269.15px;color:#4a4f54;stroke-width:1.9" width="24" height="24" viewBox="0 0 24 24"><path d="m9 18 6-6-6-6"/></svg>
<span class="t" style="left:1417.00px;top:1346.00px;font-size:22.3px;color:#264858;letter-spacing:0.424px">7/1/25</span>
<span class="t" style="left:1707.99px;top:1346.00px;font-size:22.3px;color:#264858;letter-spacing:-0.039px">Sophia Davis</span>
<span class="t" style="left:2180.39px;top:1346.00px;font-size:22.3px;color:#264858;letter-spacing:0.671px">$425.00</span>
<svg class="i" style="left:2302.9px;top:1344.15px;color:#4a4f54;stroke-width:1.9" width="24" height="24" viewBox="0 0 24 24"><path d="m9 18 6-6-6-6"/></svg>
<span class="t" style="left:1417.14px;top:1421.00px;font-size:22.3px;color:#264858;letter-spacing:1.146px">8/20/25</span>
<span class="t" style="left:1707.31px;top:1421.00px;font-size:22.3px;color:#264858;letter-spacing:0.144px">Liam Wilson</span>
<span class="t" style="left:2179.39px;top:1421.00px;font-size:22.3px;color:#264858;letter-spacing:0.848px">$400.00</span>
<svg class="i" style="left:2302.9px;top:1419.15px;color:#4a4f54;stroke-width:1.9" width="24" height="24" viewBox="0 0 24 24"><path d="m9 18 6-6-6-6"/></svg>
<span class="t" style="left:1418.25px;top:1496.00px;font-size:22.3px;color:#264858;letter-spacing:0.371px">9/10/25</span>
<span class="t" style="left:1709.25px;top:1496.00px;font-size:22.3px;color:#264858;letter-spacing:0.161px">Olivia Martin</span>
<span class="t" style="left:2179.75px;top:1496.00px;font-size:22.3px;color:#264858;letter-spacing:0.556px">$400.00</span>
<svg class="i" style="left:2302.9px;top:1494.15px;color:#4a4f54;stroke-width:1.9" width="24" height="24" viewBox="0 0 24 24"><path d="m9 18 6-6-6-6"/></svg>
</section>
</main>
</body>
</html>
